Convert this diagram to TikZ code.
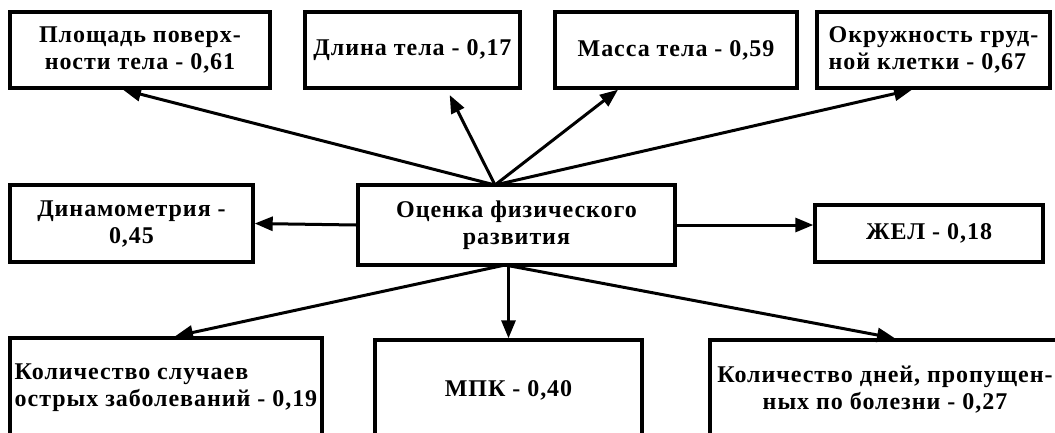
\documentclass[tikz,border=0pt]{standalone}
\usepackage{fontspec}
\setmainfont{Liberation Serif}[LetterSpace=4]
\usetikzlibrary{arrows.meta}
\tikzset{
  flowarrow/.style={-{Triangle[length=18pt,width=14pt]}, line width=3pt},
  factor/.style={draw, line width=3.4pt, inner sep=1pt, align=center, font=\bfseries\fontsize{24}{27}\selectfont},
  factorleft/.style={factor, align=left}
}

\begin{document}
\begin{tikzpicture}[x=1pt, y=-1pt]
  \clip (0,0) rectangle (1055,432);
  % top row
  \node[factor, minimum width=260pt, minimum height=76pt] (area) at (140,50) {Площадь поверх-\\ности тела - 0,61};
  \node[factor, minimum width=215pt, minimum height=76pt] (len) at (412.5,50) {Длина тела - 0,17};
  \node[factor, minimum width=242pt, minimum height=76pt] (mass) at (676,50) {Масса тела - 0,59};
  \node[factorleft, minimum width=233pt, minimum height=76pt] (chest) at (933.5,50) {Окружность груд-\\ной клетки - 0,67};
  % middle row
  \node[factor, minimum width=243pt, minimum height=77pt] (dyn) at (131.5,223.5) {Динамометрия -\\0,45};
  \node[factor, minimum width=317pt, minimum height=80pt] (cent) at (516.5,225) {Оценка физического\\развития};
  \node[factor, minimum width=228pt, minimum height=57pt] (vc) at (929,233.5) {ЖЕЛ - 0,18};
  % bottom row
  \node[factorleft, minimum width=312pt, minimum height=100pt] (ill) at (166,388) {Количество случаев\\острых заболеваний - 0,19};
  \node[factor, minimum width=267pt, minimum height=100pt] (mpk) at (508.5,390) {МПК - 0,40};
  \node[factor, minimum width=350pt, minimum height=100pt] (days) at (885,390) {Количество дней, пропущен-\\ных по болезни - 0,27};
  \coordinate (hubN) at (495,185);
  \coordinate (hubS) at (505,265);
  % connectors
  \draw[flowarrow] (hubN) -- ([xshift=-17pt]area.south);
  \draw[flowarrow, shorten >=6pt] (hubN) -- ([xshift=34.5pt]len.south);
  \draw[flowarrow] (hubN) -- ([xshift=-58pt]mass.south);
  \draw[flowarrow] (hubN) -- ([xshift=-21.5pt]chest.south);
  \draw[flowarrow] (cent.west) -- (dyn.east);
  \draw[flowarrow] (cent.east) -- (cent.east -| vc.west);
  \draw[flowarrow] (hubS) -- ([xshift=9pt]ill.north);
  \draw[flowarrow] (cent.south -| mpk.north) -- (mpk.north);
  \draw[flowarrow] (hubS) -- ([xshift=10pt]days.north);
\end{tikzpicture}
\end{document}
